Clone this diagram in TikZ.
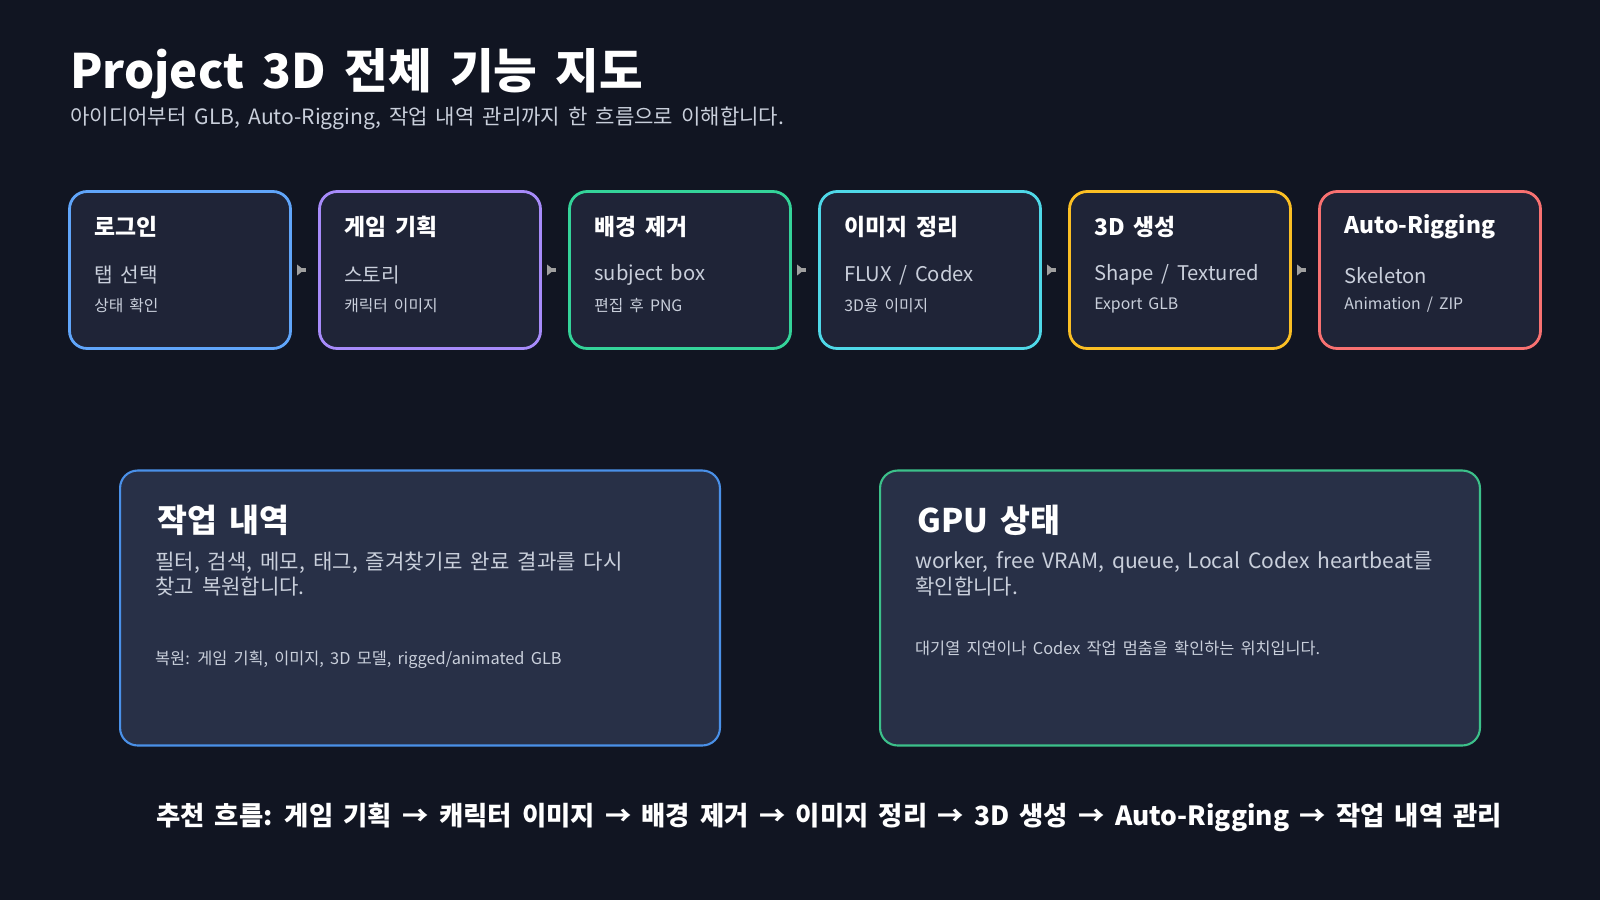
\documentclass[tikz,border=0pt]{standalone}
\usepackage{fontspec}
\setmainfont[WordSpace=1.7]{Noto Sans CJK KR}
\usetikzlibrary{positioning,arrows.meta}
\definecolor{bgdark}{HTML}{111522}
\definecolor{cardfill}{HTML}{1F2437}
\definecolor{panelfill}{HTML}{283047}
\definecolor{txtsub}{HTML}{C9CFDB}
\definecolor{cblue}{HTML}{60A5FA}
\definecolor{cpurple}{HTML}{A78BFA}
\definecolor{cgreen}{HTML}{34D399}
\definecolor{ccyan}{HTML}{4FD8E8}
\definecolor{corange}{HTML}{FBBF24}
\definecolor{cred}{HTML}{F87171}
\definecolor{pblue}{HTML}{4A90E8}
\definecolor{pgreen}{HTML}{3CC08A}
\tikzset{
  card/.style={draw=#1, line width=1.6pt, rounded corners=10pt, fill=cardfill,
    minimum width=4.42cm, minimum height=3.14cm, inner sep=0pt},
  panel/.style={draw=#1, line width=1.2pt, rounded corners=10pt, fill=panelfill,
    minimum width=12cm, minimum height=5.5cm, inner sep=0pt},
  cardtitle/.style={anchor=west, text=white, font=\bfseries\fontsize{13}{15}\selectfont},
  cardsub/.style={anchor=west, text=txtsub, font=\fontsize{11.5}{13}\selectfont},
  cardsmall/.style={anchor=west, text=txtsub, font=\fontsize{9}{10}\selectfont},
  flowarrow/.style={-{Triangle[length=4pt,width=6pt]}, draw=gray!75, line width=2pt, shorten <=8pt, shorten >=8pt},
}
\begin{document}
\begin{tikzpicture}[x=0.02cm, y=-0.02cm]
  \fill[bgdark] (0,0) rectangle (1600,900);
  \useasboundingbox (0,0) rectangle (1600,900);

  %Header
  \node[anchor=west, text=white, font=\bfseries\fontsize{27}{32}\selectfont] (title) at (64,74) {Project 3D 전체 기능 지도};
  \node[anchor=west, text=txtsub, font=\fontsize{12}{14}\selectfont] (subtitle) at (64,118) {아이디어부터 GLB, Auto-Rigging, 작업 내역 관리까지 한 흐름으로 이해합니다.};

  %Pipeline cards
  \node[card=cblue]   (login)  at (180,270) {};
  \node[card=cpurple] (plan)   at (430,270) {};
  \node[card=cgreen]  (bgcut)  at (680,270) {};
  \node[card=ccyan]   (imgfix) at (930,270) {};
  \node[card=corange] (gen3d)  at (1180,270) {};
  \node[card=cred]    (rig)    at (1430,270) {};

  \foreach \c/\t/\s/\m in {login/로그인/탭 선택/상태 확인,
                           plan/게임 기획/스토리/캐릭터 이미지,
                           bgcut/배경 제거/subject box/편집 후 PNG,
                           imgfix/이미지 정리/{FLUX / Codex}/3D용 이미지,
                           gen3d/3D 생성/{Shape / Textured}/Export GLB,
                           rig/Auto-Rigging/Skeleton/{Animation / ZIP}}{
    \node[cardtitle] at ([xshift=0.4cm, yshift=-0.74cm]\c.north west) {\t};
    \node[cardsub] at ([xshift=0.4cm, yshift=-1.7cm]\c.north west) {\s};
    \node[cardsmall] at ([xshift=0.4cm, yshift=-2.3cm]\c.north west) {\m};
  }

  \draw[flowarrow] (login) -- (plan);
  \draw[flowarrow] (plan) -- (bgcut);
  \draw[flowarrow] (bgcut) -- (imgfix);
  \draw[flowarrow] (imgfix) -- (gen3d);
  \draw[flowarrow] (gen3d) -- (rig);

  %Lower panels
  \node[panel=pblue]  (history) at (420,608) {};
  \node[panel=pgreen] (gpu)     at (1180,608) {};

  \node[anchor=west, text=white, font=\bfseries\fontsize{18.5}{22}\selectfont] at ([xshift=0.64cm, yshift=-1.02cm]history.north west) {작업 내역};
  \node[anchor=north west, text=txtsub, align=left, font=\fontsize{12}{14.5}\selectfont] at ([xshift=0.6cm, yshift=-1.52cm]history.north west) {필터, 검색, 메모, 태그, 즐겨찾기로 완료 결과를 다시\\찾고 복원합니다.};
  \node[anchor=west, text=txtsub, font=\fontsize{9.3}{11}\selectfont] at ([xshift=0.6cm, yshift=-3.8cm]history.north west) {복원: 게임 기획, 이미지, 3D 모델, rigged/animated GLB};

  \node[anchor=west, text=white, font=\bfseries\fontsize{18.5}{22}\selectfont] at ([xshift=0.64cm, yshift=-1.02cm]gpu.north west) {GPU 상태};
  \node[anchor=north west, text=txtsub, align=left, font=\fontsize{12}{14.5}\selectfont] at ([xshift=0.6cm, yshift=-1.52cm]gpu.north west) {worker, free VRAM, queue, Local Codex heartbeat를\\확인합니다.};
  \node[anchor=west, text=txtsub, font=\fontsize{9.3}{11}\selectfont] at ([xshift=0.6cm, yshift=-3.58cm]gpu.north west) {대기열 지연이나 Codex 작업 멈춤을 확인하는 위치입니다.};

  %Footer
  \node[anchor=west, text=white, font=\bfseries\fontsize{15}{18}\selectfont] (footer) at (150,817) {추천 흐름: 게임 기획 → 캐릭터 이미지 → 배경 제거 → 이미지 정리 → 3D 생성 → Auto-Rigging → 작업 내역 관리};
\end{tikzpicture}
\end{document}
